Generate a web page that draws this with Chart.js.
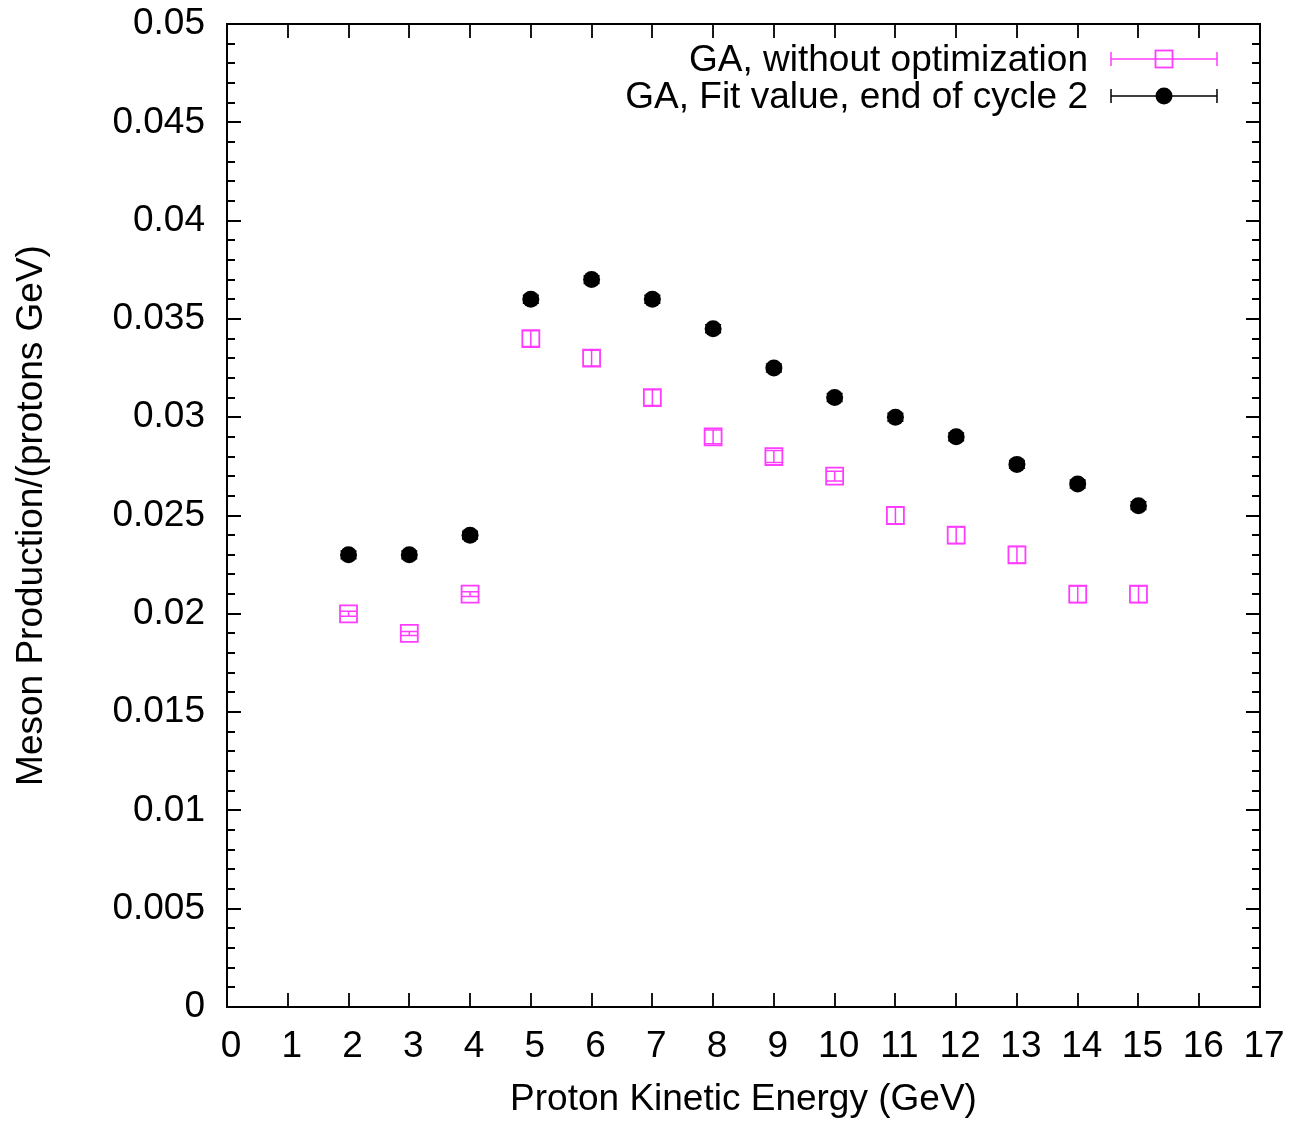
<!DOCTYPE html>
<html>
<head>
<meta charset="utf-8">
<script src="https://cdn.jsdelivr.net/npm/chart.js@4"></script>
<style>
html,body{margin:0;padding:0;background:#fff;}
canvas{display:block;}
</style>
</head>
<body>
<canvas id="c" width="1292" height="1125"></canvas>
<script>
// ---- data ----
const energies = [2,3,4,5,6,7,8,9,10,11,12,13,14,15];
const gaNoOpt = [0.0200,0.0190,0.0210,0.0340,0.0330,0.0310,0.0290,0.0280,0.0270,0.0250,0.0240,0.0230,0.0210,0.0210];
const gaNoOptErr = [0.00013,0.0001,0.00012,0.0004,0.0004,0.0004,0.00035,0.0003,0.00025,0.00042,0.00042,0.00042,0.00042,0.00042];
const gaFit = [0.0230,0.0230,0.0240,0.0360,0.0370,0.0360,0.0345,0.0325,0.0310,0.0300,0.0290,0.0276,0.0266,0.0255];
const gaFitErr = [0.0002,0.0002,0.0002,0.0002,0.0002,0.0002,0.0002,0.0002,0.0002,0.0002,0.0002,0.0002,0.0002,0.0002];
const xTickLabels = ['0','1','2','3','4','5','6','7','8','9','10','11','12','13','14','15','16','17'];
const yTickLabels = ['0','0.005','0.01','0.015','0.02','0.025','0.03','0.035','0.04','0.045','0.05'];
const legendLabels = ['GA, without optimization','GA, Fit value, end of cycle 2'];
const xTitle = 'Proton Kinetic Energy (GeV)';
const yTitle = 'Meson Production/(protons GeV)';

const PINK = '#ff3cff';
const FONT = '"Liberation Sans", Arial, Helvetica, sans-serif';
const FS = 37;

const toPts = (ys) => energies.map((x,i)=>({x:x,y:ys[i]}));

const errPlugin = {
  id:'errbars',
  beforeDatasetsDraw(chart){
    const {ctx, scales:{x,y}} = chart;
    const sets = [[gaNoOpt,gaNoOptErr,PINK],[gaFit,gaFitErr,'#000']];
    ctx.save();
    ctx.lineWidth = 1.5;
    for (const [vals,errs,col] of sets){
      ctx.strokeStyle = col;
      energies.forEach((e,i)=>{
        const px = x.getPixelForValue(e);
        const y1 = y.getPixelForValue(vals[i]-errs[i]);
        const y2 = y.getPixelForValue(vals[i]+errs[i]);
        ctx.beginPath();
        ctx.moveTo(px,y1); ctx.lineTo(px,y2);
        ctx.moveTo(px-8,y1); ctx.lineTo(px+8,y1);
        ctx.moveTo(px-8,y2); ctx.lineTo(px+8,y2);
        ctx.stroke();
      });
    }
    ctx.restore();
  },
  afterDraw(chart){
    const {ctx, chartArea:a, scales:{x,y}} = chart;
    ctx.save();
    ctx.strokeStyle = '#000';
    ctx.lineWidth = 2;
    ctx.strokeRect(a.left,a.top,a.right-a.left,a.bottom-a.top);
    ctx.lineWidth = 1.8;
    ctx.beginPath();
    for (let v=0; v<=17; v++){
      const px = Math.round(x.getPixelForValue(v));
      ctx.moveTo(px,a.bottom); ctx.lineTo(px,a.bottom-14);
      ctx.moveTo(px,a.top); ctx.lineTo(px,a.top+14);
    }
    for (let k=0; k<=50; k++){
      const py = Math.round(y.getPixelForValue(k/1000));
      const len = (k%5===0)?14:8;
      ctx.moveTo(a.left,py); ctx.lineTo(a.left+len,py);
      ctx.moveTo(a.right,py); ctx.lineTo(a.right-len,py);
    }
    ctx.stroke();

    // legend
    const rows = [[legendLabels[0],PINK,'rect'],[legendLabels[1],'#000','circle']];
    const rowY = [59,96];
    ctx.font = FS + 'px ' + FONT;
    ctx.textAlign = 'right';
    ctx.textBaseline = 'middle';
    rows.forEach(([txt,col,shape],i)=>{
      const yy = rowY[i];
      ctx.fillStyle = '#000';
      ctx.fillText(txt,1088,yy+2);
      ctx.strokeStyle = col;
      ctx.lineWidth = 1.5;
      ctx.beginPath();
      ctx.moveTo(1111,yy); ctx.lineTo(1217,yy);
      ctx.moveTo(1111,yy-7); ctx.lineTo(1111,yy+7);
      ctx.moveTo(1217,yy-7); ctx.lineTo(1217,yy+7);
      ctx.stroke();
      if (shape==='rect'){
        ctx.lineWidth = 1.8;
        ctx.strokeRect(1155.5,yy-8.5,17,17);
      } else {
        ctx.fillStyle = col;
        ctx.beginPath(); ctx.arc(1164,yy,8.5,0,Math.PI*2); ctx.fill();
      }
    });
    ctx.restore();
  }
};

function zeroPad(s){ s.paddingTop=0; s.paddingBottom=0; s.paddingLeft=0; s.paddingRight=0; }

new Chart(document.getElementById('c'),{
  type:'scatter',
  data:{datasets:[
    {label:legendLabels[0], data:toPts(gaNoOpt), pointStyle:'rect', radius:12, hoverRadius:12,
     borderColor:PINK, backgroundColor:'rgba(0,0,0,0)', borderWidth:1.8},
    {label:legendLabels[1], data:toPts(gaFit), pointStyle:'circle', radius:8.5, hoverRadius:8.5,
     borderColor:'#000', backgroundColor:'#000', borderWidth:0}
  ]},
  options:{
    responsive:false, animation:false, devicePixelRatio:1,
    layout:{padding:{top:24,right:32,left:0,bottom:0}},
    plugins:{legend:{display:false}, tooltip:{enabled:false}},
    scales:{
      x:{type:'linear', min:0, max:17,
        grid:{display:false}, border:{display:false},
        ticks:{stepSize:1, autoSkip:false, maxRotation:0, padding:10, labelOffset:4, color:'#000',
          font:{family:FONT,size:FS}, callback:(v,i)=>xTickLabels[i]},
        title:{display:true,text:xTitle,color:'#000',font:{family:FONT,size:FS},padding:{top:0,bottom:3}},
        afterFit(s){s.height=118; zeroPad(s);}
      },
      y:{type:'linear', min:0, max:0.05,
        grid:{display:false}, border:{display:false},
        ticks:{stepSize:0.005, autoSkip:false, padding:14, color:'#000',
          font:{family:FONT,size:FS}, callback:(v,i)=>yTickLabels[i]},
        title:{display:true,text:yTitle,color:'#000',font:{family:FONT,size:FS},padding:{top:10,bottom:0}},
        afterFit(s){s.width=227; zeroPad(s);}
      }
    }
  },
  plugins:[errPlugin]
});
</script>
</body>
</html>
